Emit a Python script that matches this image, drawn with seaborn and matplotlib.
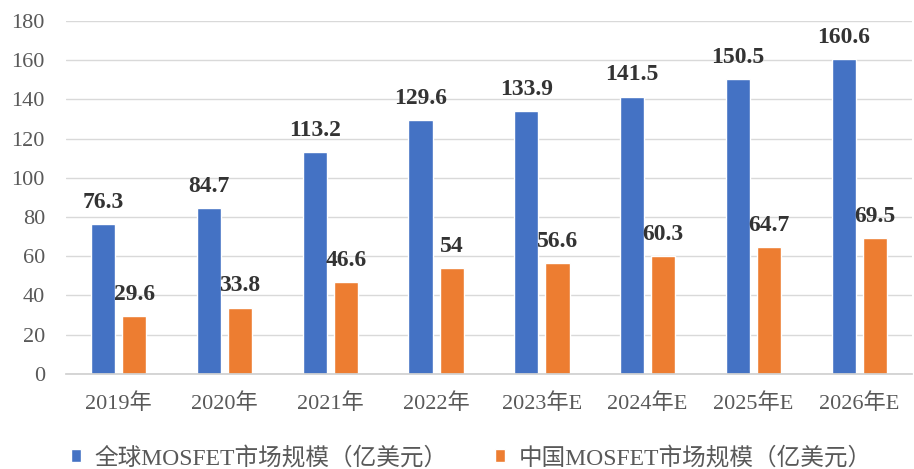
import pandas as pd
import matplotlib
matplotlib.use('Agg')
import matplotlib.pyplot as plt
import seaborn as sns

# Data
years = ['2019年', '2020年', '2021年', '2022年', '2023年E', '2024年E', '2025年E', '2026年E']
global_size = [76.3, 84.7, 113.2, 129.6, 133.9, 141.5, 150.5, 160.6]
china_size = [29.6, 33.8, 46.6, 54, 56.6, 60.3, 64.7, 69.5]
series_names = ['全球MOSFET市场规模（亿美元）', '中国MOSFET市场规模（亿美元）']

df = pd.DataFrame({
    'year': years * 2,
    'value': global_size + china_size,
    'series': [series_names[0]] * len(years) + [series_names[1]] * len(years),
})

sns.set_theme(style='white')
plt.rcParams['font.family'] = ['Liberation Serif', 'Noto Sans CJK SC', 'DejaVu Sans']

fig = plt.figure(figsize=(9.14, 4.69), dpi=100)
ax = fig.add_axes([0.072, 0.203, 0.926, 0.752])

palette = {series_names[0]: '#4472C4', series_names[1]: '#ED7D31'}
sns.barplot(data=df, x='year', y='value', hue='series', palette=palette,
            width=0.59, gap=0.23, saturation=1, ax=ax, legend=True)

# Value labels
for container in ax.containers:
    labels = [f'{v:g}' for v in container.datavalues]
    ax.bar_label(container, labels=labels, padding=8, fontsize=17,
                 fontweight='bold', color='#333333')

ax.set_ylim(0, 180)
ax.set_yticks(range(0, 181, 20))
ax.set_xlim(-0.5, len(years) - 0.5)
ax.set_xlabel('')
ax.set_ylabel('')
ax.grid(axis='y', color='#d9d9d9', linewidth=1)
ax.set_axisbelow(True)
for side in ['top', 'right', 'left']:
    ax.spines[side].set_visible(False)
ax.spines['bottom'].set_color('#d0d0d0')
ax.tick_params(axis='both', length=0, labelsize=16, labelcolor='#595959')
ax.tick_params(axis='x', pad=14)
ax.tick_params(axis='y', pad=15)

ax.legend(loc='center', bbox_to_anchor=(0.479, -0.238), ncol=2, frameon=False,
          fontsize=17, labelcolor='#595959', handlelength=0.45, handleheight=0.45,
          handletextpad=0.55, columnspacing=2.0)

fig.savefig('out.png', dpi=100)
